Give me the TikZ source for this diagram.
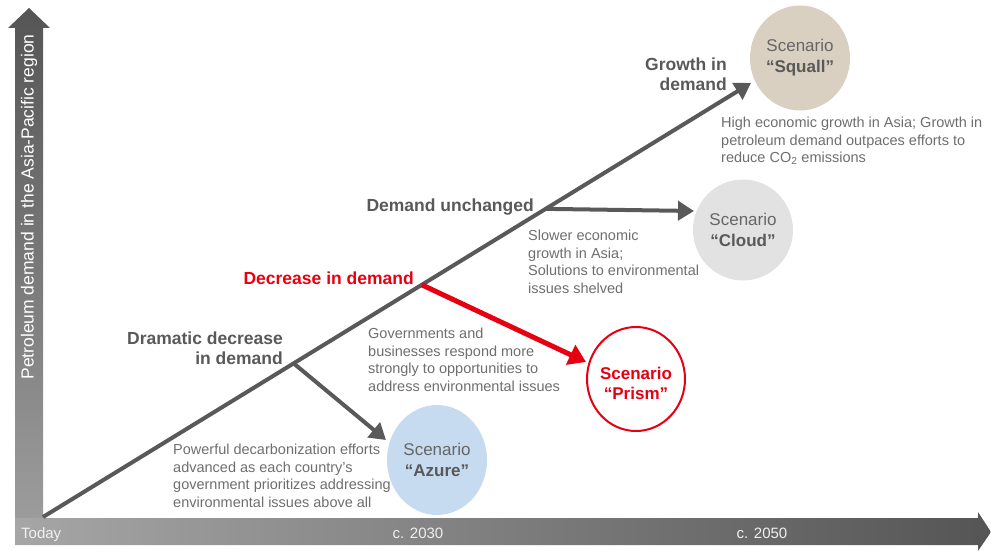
\documentclass[tikz,border=0pt]{standalone}
\usepackage{fontspec}
\setmainfont{Liberation Sans}
\usetikzlibrary{arrows.meta,calc,shapes.geometric}

\definecolor{linegray}{HTML}{595959}
\definecolor{bodygray}{HTML}{6E6E6E}
\definecolor{scengray}{HTML}{666666}
\definecolor{alertred}{HTML}{E60012}
\definecolor{axisdark}{HTML}{555555}
\definecolor{axislight}{HTML}{9C9C9C}
\definecolor{barlight}{HTML}{A6A6A6}
\definecolor{squallfill}{HTML}{DAD0C1}
\definecolor{cloudfill}{HTML}{E2E2E2}
\definecolor{azurefill}{HTML}{C6DBF0}

\tikzset{
  bodytext/.style={inner sep=0pt, align=left, text=bodygray,
    font=\fontsize{14.5}{17.5}\selectfont},
  boldlabel/.style={inner sep=0pt, text=linegray,
    font=\fontsize{17.5}{20}\selectfont\bfseries},
  yearlabel/.style={inner sep=0pt, text=white!94!black,
    font=\fontsize{15}{18}\selectfont},
  scen/.style={ellipse, inner sep=0pt, align=center, text=scengray,
    font=\fontsize{17}{21}\selectfont},
  headtip/.style={-{Triangle[length=16pt,width=19pt]}},
  trendline/.style={draw=linegray, line width=4pt, headtip},
  branchline/.style={draw=linegray, line width=4pt, headtip},
  redline/.style={draw=alertred, line width=5pt, -{Triangle[length=17pt,width=21pt]}}
}

\begin{document}
\begin{tikzpicture}[x=1pt,y=-1pt]
\useasboundingbox (0,0) rectangle (991,551);

% vertical axis arrow
\shade[top color=axisdark, bottom color=axislight]
  (15,518) -- (15,28) -- (8,28) -- (29,8) -- (50,28) -- (43,28) -- (43,518) -- cycle;
% horizontal time axis arrow
\shade[left color=barlight, right color=axisdark]
  (15,518) -- (978,518) -- (978,512) -- (991,532) -- (978,551) -- (978,545) -- (15,545) -- cycle;

\node[rotate=90, inner sep=0pt, text=white, font=\fontsize{17.5}{20}\selectfont]
  (ylabel) at (29,207) {Petroleum demand in the Asia-Pacific region};

\node[yearlabel, anchor=base west] (today) at (21,538) {Today};
\node[yearlabel, anchor=base] (y2030) at (418,538) {c. 2030};
\node[yearlabel, anchor=base] (y2050) at (762,538) {c. 2050};

% scenario bubbles
\node[scen, fill=squallfill, minimum width=100pt, minimum height=105pt]
  (squall) at (800,58) {Scenario\\{\bfseries\color{linegray}“Squall”}};
\node[scen, fill=cloudfill, minimum width=100pt, minimum height=101pt]
  (cloud) at (743,230) {Scenario\\{\bfseries\color{linegray}“Cloud”}};
\node[scen, draw=alertred, line width=2pt, fill=white, minimum width=98pt, minimum height=104pt]
  (prism) at (636,379) {};
\node[inner sep=0pt, align=center, text=alertred, font=\fontsize{17}{20}\selectfont\bfseries]
  (prismtext) at ($(prism)+(0,4)$) {Scenario\\“Prism”};
\node[scen, fill=azurefill, minimum width=100pt, minimum height=110pt]
  (azure) at (437,460) {Scenario\\{\bfseries\color{linegray}“Azure”}};

% demand trend and its branches
\coordinate (origin) at (43,517);
\coordinate (squallIn) at (751,83);
\coordinate (b1) at ($(origin)!0.354!(squallIn)$);
\coordinate (b2) at ($(origin)!0.535!(squallIn)$);
\coordinate (b3) at ($(origin)!0.710!(squallIn)$);
\coordinate (azureIn) at (386,440);
\coordinate (prismIn) at (586,362);
\coordinate (cloudIn) at (694,211);

\draw[trendline] (origin) -- (squallIn);
\draw[branchline] (b1) -- (azureIn);
\draw[redline] (b2) -- (prismIn);
\draw[branchline] (b3) -- (cloudIn);

% labels and notes
\node[boldlabel, align=right, anchor=north east] (growth) at (727,58) {Growth in\\demand};
\node[bodytext, anchor=north west] (squallnote) at (721,117)
  {High economic growth in Asia; Growth in\\petroleum demand outpaces efforts to\\reduce CO\textsubscript{2} emissions};

\node[boldlabel, anchor=base east] (unchanged) at (534,211) {Demand unchanged};
\node[bodytext, anchor=north west] (cloudnote) at (528,230)
  {Slower economic\\growth in Asia;\\Solutions to environmental\\issues shelved};

\node[boldlabel, text=alertred, anchor=base east] (decrease) at (414,284) {Decrease in demand};
\node[bodytext, anchor=north west] (prismnote) at (368,328)
  {Governments and\\businesses respond more\\strongly to opportunities to\\address environmental issues};

\node[boldlabel, align=right, anchor=north east] (dramatic) at (283,332) {Dramatic decrease\\in demand};
\node[bodytext, anchor=north west] (azurenote) at (173,444)
  {Powerful decarbonization efforts\\advanced as each country’s\\government prioritizes addressing\\environmental issues above all};
\end{tikzpicture}
\end{document}
